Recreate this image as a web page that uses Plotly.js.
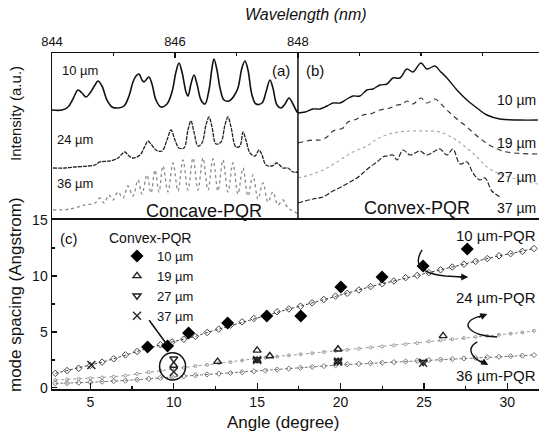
<!DOCTYPE html>
<html><head><meta charset="utf-8">
<script src="https://cdn.plot.ly/plotly-3.0.1.min.js"></script>
<style>html,body{margin:0;padding:0;background:#fff}</style>
</head><body><div id="chart" style="width:539px;height:432px"></div>
<script>
// ---- panel (a): concave-PQR spectra (wavelength nm, intensity a.u.)
const wlA10 = [844.000,844.163,844.260,844.341,844.423,844.488,844.553,844.618,844.699,844.748,844.813,844.894,844.976,845.073,845.171,845.252,845.317,845.366,845.415,845.463,845.496,845.528,845.577,845.626,845.691,845.772,845.870,845.951,846.016,846.065,846.114,846.179,846.211,846.260,846.309,846.358,846.423,846.488,846.553,846.602,846.634,846.683,846.732,846.797,846.878,846.959,847.024,847.089,847.138,847.187,847.252,847.317,847.415,847.480,847.545,847.593,847.659,847.724,847.789,847.854,847.902,847.967,848.000];
const intA10 = [110,110,113,121,130,127,123,127,135,139,134,120,113,112,114,124,138,144,146,140,138,140,143,136,120,113,116,128,148,157,148,128,124,136,145,136,120,116,130,152,161,150,132,120,119,124,132,152,159,150,125,116,117,128,140,132,115,112,116,122,118,110,107];
const wlA24 = [844.016,844.211,844.374,844.585,844.699,844.780,844.943,845.073,845.138,845.187,845.236,845.317,845.431,845.512,845.561,845.610,845.691,845.789,845.870,845.935,846.000,846.065,846.146,846.211,846.260,846.309,846.374,846.439,846.504,846.553,846.602,846.667,846.748,846.813,846.862,846.911,846.992,847.057,847.106,847.154,847.220,847.301,847.366,847.415,847.480,847.577,847.659,847.756,847.837,847.919,848.000];
const intA24 = [52,52,53,54,55,58,59,62,66,68,65,62,65,74,79,76,70,69,80,90,80,72,72,90,99,88,74,77,95,103,93,76,78,95,103,93,73,74,88,80,67,64,70,65,55,54,57,52,52,48,48];
const wlA36 = [844.016,844.293,844.537,844.699,844.780,844.846,844.927,844.992,845.073,845.154,845.236,845.317,845.398,845.463,845.545,845.610,845.675,845.740,845.805,845.886,845.967,846.049,846.130,846.211,846.293,846.374,846.455,846.537,846.618,846.699,846.780,846.862,846.943,847.024,847.106,847.187,847.268,847.350,847.431,847.512,847.593,847.675,847.756,847.837,847.951,848.000];
const intA36 = [10,11,15,17,22,17,25,20,28,22,34,24,40,26,45,27,50,28,54,28,57,29,60,30,62,30,62,30,61,29,60,28,57,26,52,24,45,21,37,18,28,15,20,12,8,6];
// ---- panel (b): convex-PQR spectra
const wlB10 = [848.000,848.114,848.244,848.358,848.472,848.569,848.683,848.797,848.894,849.008,849.122,849.220,849.333,849.447,849.545,849.659,849.772,849.870,850.000,850.098,850.228,850.309,850.423,850.585,850.748,850.911,851.073,851.285,851.610,851.902];
const intB10 = [107,108,111,111,114,117,117,121,124,124,130,131,135,136,142,142,151,148,157,151,154,149,142,130,120,112,105,101,100,100];
const wlB19 = [848.000,848.244,848.358,848.472,848.569,848.732,848.813,848.959,849.057,849.171,849.333,849.496,849.610,849.707,849.772,849.870,850.000,850.098,850.228,850.309,850.423,850.585,850.748,850.911,851.041,851.171,851.398,851.902];
const intB19 = [77,80,80,83,89,92,98,101,105,106,110,112,115,116,119,116,122,117,121,117,110,101,93,84,78,73,68,66];
const wlB27 = [848.000,848.195,848.407,848.634,848.894,849.122,849.285,849.545,849.821,850.098,850.309,850.520,850.683,850.911,851.073,851.285,851.610,851.902];
const intB27 = [42,45,50,58,68,74,81,87,89,89,88,82,75,63,53,46,40,36];
const wlB37 = [848.000,848.244,848.407,848.569,848.732,848.846,848.959,849.057,849.171,849.285,849.382,849.447,849.545,849.610,849.707,849.821,849.902,849.984,850.098,850.228,850.309,850.423,850.520,850.634,850.748,850.846,850.959,851.041,851.154,851.285];
const intB37 = [17,21,23,29,34,38,42,47,53,58,63,64,65,60,70,65,67,69,65,69,71,65,71,56,58,47,40,42,29,23];
// ---- panel (c): mode spacing vs angle
const angle10 = [8.43,9.63,10.89,13.23,15.58,17.62,20.02,22.49,24.95,27.6];
const spacing10 = [3.66,3.75,4.91,5.80,6.43,6.43,9.02,9.91,10.89,12.41];
const angle19 = [10.0,12.63,15.0,15.0,15.76,19.85,19.85,26.15];
const spacing19 = [2.0,2.35,3.35,2.45,2.85,3.45,2.35,4.65];
const angle27 = [10.0,15.0,19.85,24.95];
const spacing27 = [2.6,2.55,2.4,2.3];
const angle37 = [5.06,10.0,15.0,19.85,24.95];
const spacing37 = [2.05,1.45,2.5,2.35,2.25];
const angleSim = [2.9,3.6,4.3,5.0,5.7,6.4,7.1,7.8,8.5,9.2,9.9,10.6,11.3,12.0,12.7,13.4,14.1,14.8,15.5,16.2,16.9,17.6,18.3,19.0,19.7,20.4,21.1,21.8,22.5,23.2,23.9,24.6,25.3,26.0,26.7,27.4,28.1,28.8,29.5,30.2,30.9,31.6];
const sim10 = [1.3,1.55,1.75,2.0,2.3,2.6,2.95,3.25,3.55,3.85,4.1,4.35,4.6,4.95,5.25,5.6,5.9,6.2,6.5,6.8,7.05,7.3,7.6,7.9,8.2,8.45,8.75,9.05,9.3,9.55,9.85,10.05,10.3,10.55,10.8,11.05,11.3,11.55,11.8,12.0,12.2,12.45];
const sim24 = [0.7,0.75,0.8,0.85,0.93,1.0,1.1,1.25,1.4,1.55,1.7,1.8,1.95,2.05,2.2,2.3,2.45,2.6,2.7,2.8,2.9,3.0,3.1,3.2,3.3,3.4,3.5,3.6,3.7,3.8,3.9,4.0,4.15,4.25,4.35,4.45,4.55,4.65,4.75,4.85,4.95,5.1];
const sim36 = [0.4,0.42,0.46,0.5,0.55,0.6,0.65,0.73,0.82,0.9,0.97,1.05,1.12,1.2,1.27,1.33,1.4,1.48,1.55,1.63,1.72,1.8,1.88,1.95,2.02,2.1,2.15,2.2,2.25,2.3,2.36,2.42,2.48,2.53,2.58,2.63,2.68,2.73,2.78,2.83,2.88,2.93];

const FONT = 'Liberation Sans, Arial, sans-serif';
const INK = '#111';
function spec(x, y, color, dash, width) {
  return {x: x, y: y, xaxis: 'x', yaxis: 'y', type: 'scatter', mode: 'lines', showlegend: false, hoverinfo: 'skip',
          line: {color: color, dash: dash, width: width, shape: 'spline', smoothing: 1}};
}
const traces = [
  spec(wlA10, intA10, '#111', 'solid', 1.6),
  spec(wlA24, intA24, '#222', '4px,1px', 1.3),
  spec(wlA36, intA36, '#8a8a8a', 'dot', 1.3),
  spec(wlB10, intB10, '#111', 'solid', 1.4),
  spec(wlB19, intB19, '#333', '5px,4px', 1.2),
  spec(wlB27, intB27, '#aaa', 'dot', 1.2),
  spec(wlB37, intB37, '#222', '5px,2px', 1.2),
  {x: angleSim, y: sim10, xaxis: 'x2', yaxis: 'y2', mode: 'lines+markers', showlegend: false, name: '10 µm-PQR',
   line: {color: '#444', dash: '3px,2px', width: 1}, marker: {symbol: 'diamond-open', size: 5, color: '#444', line: {width: 1}}},
  {x: angleSim, y: sim24, xaxis: 'x2', yaxis: 'y2', mode: 'lines+markers', showlegend: false, name: '24 µm-PQR',
   line: {color: '#9a9a9a', dash: 'dot', width: 1}, marker: {symbol: 'circle-open', size: 3, color: '#9a9a9a', line: {width: 1}}},
  {x: angleSim, y: sim36, xaxis: 'x2', yaxis: 'y2', mode: 'lines+markers', showlegend: false, name: '36 µm-PQR',
   line: {color: '#777', dash: '3px,2px', width: 1}, marker: {symbol: 'diamond-open', size: 4, color: '#777', line: {width: 1}}},
  {x: angle10, y: spacing10, xaxis: 'x2', yaxis: 'y2', mode: 'markers', name: '10 µm',
   marker: {symbol: 'diamond', size: 10, color: '#000'}},
  {x: angle19, y: spacing19, xaxis: 'x2', yaxis: 'y2', mode: 'markers', name: '19 µm',
   marker: {symbol: 'triangle-up-open', size: 7, color: '#222', line: {width: 1.4}}},
  {x: angle27, y: spacing27, xaxis: 'x2', yaxis: 'y2', mode: 'markers', name: '27 µm',
   marker: {symbol: 'triangle-down-open', size: 7, color: '#222', line: {width: 1.4}}},
  {x: angle37, y: spacing37, xaxis: 'x2', yaxis: 'y2', mode: 'markers', name: '37 µm',
   marker: {symbol: 'x-thin-open', size: 8, color: '#222', line: {width: 1.4}}}
];

// pixel -> paper helper for text placement
const L = 52, T = 53, W = 487, H = 336;
function px(x) { return (x - L) / W; }
function py(y) { return (T + H - y) / H; }
function txt(text, x, y, size, xanchor, extra) {
  return Object.assign({text: text, xref: 'paper', yref: 'paper', x: px(x), y: py(y), xanchor: xanchor || 'center', yanchor: 'middle',
    showarrow: false, font: {family: FONT, size: size, color: INK}}, extra || {});
}
const annotations = [
  txt('<i>Wavelength (nm)</i>', 306, 15, 16),
  txt('Intensity (a.u.)', 15, 114, 15, 'center', {textangle: -90}),
  txt('mode spacing (Angstrom)', 15, 295, 17, 'center', {textangle: -90}),
  txt('Angle (degree)', 283, 422, 17),
  txt('10 µm', 60, 70, 13, 'left'),
  txt('24 µm', 55, 139, 13, 'left'),
  txt('36 µm', 55, 183, 13, 'left'),
  txt('(a)', 281, 70, 15),
  txt('(b)', 315, 70, 15),
  txt('Concave-PQR', 204, 211, 18),
  txt('Convex-PQR', 417, 208, 18),
  txt('10 µm', 538, 100, 14, 'right'),
  txt('19 µm', 538, 143, 14, 'right'),
  txt('27 µm', 538, 177, 14, 'right'),
  txt('37 µm', 538, 208, 14, 'right'),
  txt('(c)', 69, 238, 15),
  txt('Convex-PQR', 107, 238, 14, 'left'),
  txt('10 µm-PQR', 538, 235, 15, 'right'),
  txt('24 µm-PQR', 538, 297, 15, 'right'),
  txt('36 µm-PQR', 538, 375, 15, 'right'),
  {xref: 'x2', yref: 'y2', x: 9.6, y: 3.85, ax: -19, ay: -26, axref: 'pixel', ayref: 'pixel', text: '', showarrow: true,
   arrowhead: 0, arrowwidth: 1.5, arrowcolor: '#111', standoff: 0},
  {xref: 'x2', yref: 'y2', x: 27.66, y: 9.91, ax: -10, ay: 0, text: '', showarrow: true, arrowhead: 2, arrowsize: 1, arrowwidth: 1.4, arrowcolor: '#111'},
  {xref: 'x2', yref: 'y2', x: 28.8, y: 6.6, ax: -10, ay: 4, text: '', showarrow: true, arrowhead: 2, arrowsize: 1, arrowwidth: 1.4, arrowcolor: '#111'},
  {xref: 'x2', yref: 'y2', x: 28.86, y: 2.05, ax: -9, ay: -5, text: '', showarrow: true, arrowhead: 2, arrowsize: 1, arrowwidth: 1.4, arrowcolor: '#111'}
];
const shapes = [
  {type: 'line', xref: 'x', yref: 'paper', x0: 848, x1: 848, y0: 0.503, y1: 1, line: {color: INK, width: 1.5}},
  {type: 'circle', xref: 'x2', yref: 'y2', x0: 9.15, x1: 10.71, y0: 0.71, y1: 3.13, line: {color: INK, width: 1.5}},
  {type: 'path', xref: 'x2', yref: 'y2', path: 'M 24.89,12.32 Q 24.05,10.36 26.27,10.0 L 27.3,9.91', line: {color: INK, width: 1.4}},
  {type: 'path', xref: 'x2', yref: 'y2', path: 'M 29.40,4.55 C 27.78,4.55 26.88,5.89 28.5,6.45', line: {color: INK, width: 1.4}},
  {type: 'path', xref: 'x2', yref: 'y2', path: 'M 28.20,4.11 C 27.54,3.57 27.78,2.68 28.6,2.2', line: {color: INK, width: 1.4}}
];
const axisFont = {family: FONT, size: 14, color: INK};
const layout = {
  width: 539, height: 432, margin: {l: L, r: 0, t: T, b: 432 - T - H},
  paper_bgcolor: '#fff', plot_bgcolor: '#fff', font: {family: FONT, color: INK},
  xaxis: {domain: [0, 1], range: [844, 851.92], side: 'top', anchor: 'y', tickmode: 'array', tickvals: [844, 846, 848],
          ticktext: ['844', '846', '848'], ticks: 'inside', ticklen: 5, tickwidth: 1.2, tickcolor: INK,
          minor: {tickmode: 'array', tickvals: [845, 847, 849, 850, 851], ticks: 'inside', ticklen: 3, tickcolor: INK},
          showline: true, linewidth: 1.5, linecolor: INK, showgrid: false, zeroline: false, tickfont: {family: FONT, size: 13, color: INK}},
  yaxis: {domain: [0.503, 1], range: [0, 167], showline: true, linewidth: 1.5, linecolor: INK, showticklabels: false, ticks: '',
          showgrid: false, zeroline: false},
  xaxis2: {domain: [0, 1], range: [2.7, 31.9], anchor: 'y2', tickmode: 'array', tickvals: [5, 10, 15, 20, 25, 30], ticks: 'inside',
           ticklen: 6, tickwidth: 1.2, tickcolor: INK, minor: {dtick: 2.5, tick0: 0, ticks: 'inside', ticklen: 3, tickcolor: INK},
           showline: true, mirror: true, linewidth: 1.5, linecolor: INK, showgrid: false, zeroline: false, tickfont: axisFont},
  yaxis2: {domain: [0, 0.503], range: [-0.1, 15], anchor: 'x2', tickmode: 'array', tickvals: [0, 5, 10, 15], ticks: 'inside', ticklen: 5,
           tickwidth: 1.2, tickcolor: INK, minor: {dtick: 2.5, tick0: 0, ticks: 'inside', ticklen: 3, tickcolor: INK},
           showline: true, linewidth: 1.5, linecolor: INK, showgrid: false, zeroline: false, tickfont: axisFont},
  showlegend: true,
  legend: {x: px(117), y: py(241), xanchor: 'left', yanchor: 'top', bgcolor: 'rgba(0,0,0,0)', font: {family: FONT, size: 13, color: INK},
           tracegroupgap: 0, itemwidth: 30},
  annotations: annotations, shapes: shapes
};
Plotly.newPlot('chart', traces, layout, {displayModeBar: false, staticPlot: true});
</script></body></html>
